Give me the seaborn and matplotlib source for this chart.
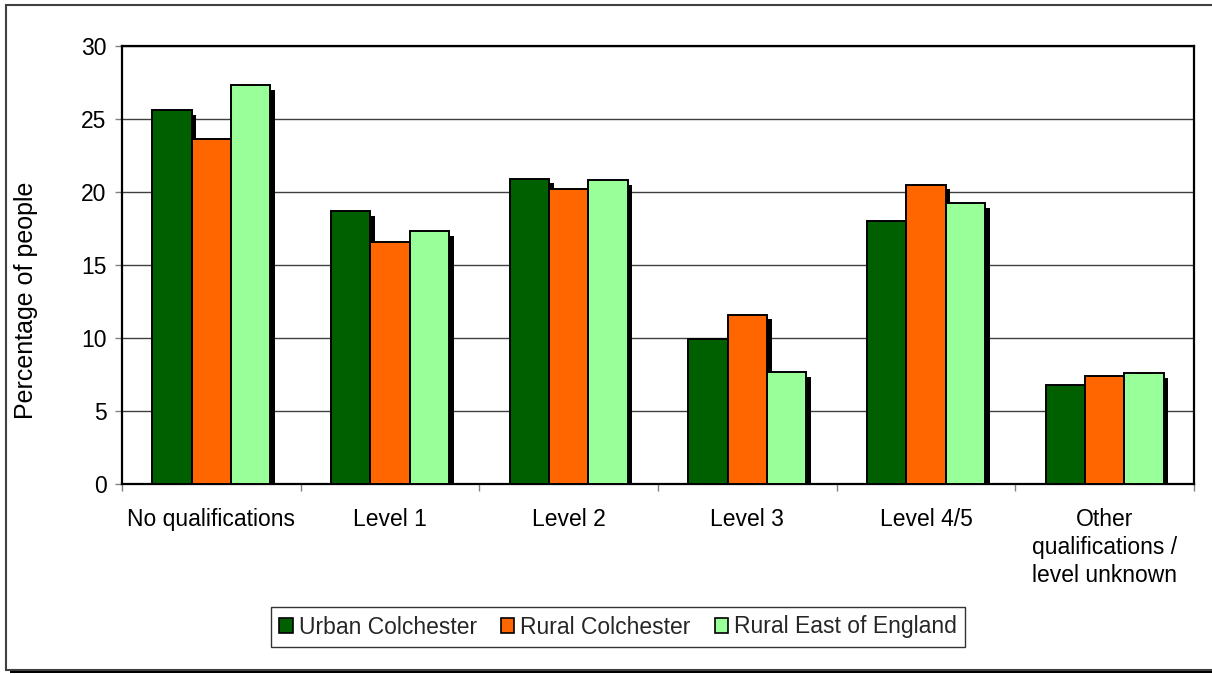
"""
Qualification levels of residents: urban vs rural Colchester vs rural East of England.
Excel-style clustered bar chart with drop shadows, redrawn with seaborn.
"""

import matplotlib as mpl
import matplotlib.pyplot as plt
import matplotlib.patheffects as pe
from matplotlib.patches import Rectangle, Patch
import pandas as pd
import seaborn as sns

CATEGORIES = [
    "No qualifications",
    "Level 1",
    "Level 2",
    "Level 3",
    "Level 4/5",
    "Other\nqualifications /\nlevel unknown",
]
URBAN_COLCHESTER = [25.6, 18.7, 20.9, 9.9, 18.0, 6.75]
RURAL_COLCHESTER = [23.6, 16.6, 20.2, 11.6, 20.5, 7.4]
RURAL_EAST = [27.3, 17.3, 20.8, 7.65, 19.25, 7.6]

SERIES = ["Urban Colchester", "Rural Colchester", "Rural East of England"]
COLORS = {
    "Urban Colchester": "#006000",
    "Rural Colchester": "#FF6600",
    "Rural East of England": "#99FF99",
}
Y_TICKS = [0, 5, 10, 15, 20, 25, 30]
FONT_SIZE = 16.5


def build_table() -> pd.DataFrame:
    rows = []
    for series, values in zip(SERIES, [URBAN_COLCHESTER, RURAL_COLCHESTER, RURAL_EAST]):
        for cat, val in zip(CATEGORIES, values):
            rows.append({"Category": cat, "Series": series, "Percent": val})
    return pd.DataFrame(rows)


def main():
    sns.set_theme(style="white")
    mpl.rcParams["font.family"] = ["Liberation Sans", "DejaVu Sans"]

    df = build_table()

    fig = plt.figure(figsize=(12.12, 6.74), dpi=100)
    fig.patch.set_facecolor("white")

    # outer chart-area frame with Excel-like shadow
    frame = Rectangle(
        (6 / 1212, 1 - 670 / 674), 1.02, (670 - 5) / 674,
        transform=fig.transFigure, facecolor="white", edgecolor="#404040",
        linewidth=1.5, zorder=-5,
        path_effects=[pe.SimplePatchShadow(offset=(3, -2.5), shadow_rgbFace="black", alpha=1), pe.Normal()],
    )
    fig.patches.append(frame)

    ax = fig.add_axes([122 / 1212, 1 - 484 / 674, (1194 - 122) / 1212, (484 - 46) / 674])
    ax.set_facecolor("white")

    sns.barplot(
        data=df, x="Category", y="Percent", hue="Series",
        hue_order=SERIES, order=CATEGORIES, palette=COLORS,
        width=0.66, gap=0, edgecolor="black", linewidth=1.4,
        saturation=1, errorbar=None, legend=False, ax=ax, zorder=3,
    )
    shadow = [pe.SimplePatchShadow(offset=(3.3, -3.3), shadow_rgbFace="black", alpha=1), pe.Normal()]
    for bar in ax.patches:
        bar.set_path_effects(shadow)

    ax.set_ylim(0, 30)
    ax.set_xlim(-0.5, len(CATEGORIES) - 0.5)
    ax.set_yticks(Y_TICKS)
    ax.yaxis.grid(True, color="#404040", linewidth=1.0, zorder=0)
    ax.set_axisbelow(True)

    ax.set_xticks(range(len(CATEGORIES)), labels=CATEGORIES)
    ax.set_xticks([i - 0.5 for i in range(len(CATEGORIES) + 1)], minor=True)
    ax.tick_params(axis="x", which="major", length=0, pad=17, labelsize=FONT_SIZE, colors="black")
    ax.tick_params(axis="x", which="minor", bottom=True, length=5, width=1, color="#808080")
    ax.tick_params(axis="y", left=True, length=5, width=1, color="#808080", pad=6,
                   labelsize=FONT_SIZE, labelcolor="black")
    for lab in ax.get_xticklabels():
        lab.set_va("top")
        lab.set_linespacing(1.3)

    for side in ["left", "bottom", "top", "right"]:
        ax.spines[side].set_visible(True)
        ax.spines[side].set_color("black")
        ax.spines[side].set_linewidth(1.6)

    ax.set_xlabel("")
    ax.set_ylabel("Percentage of people", fontsize=18, color="black")
    ax.yaxis.set_label_coords(-0.078, 0.42)

    handles = [
        Patch(facecolor=COLORS[s], edgecolor="black", linewidth=1.2, label=s)
        for s in SERIES
    ]
    leg = fig.legend(
        handles=handles, loc="center", bbox_to_anchor=(618 / 1212, 1 - 627 / 674),
        ncol=3, frameon=True, fancybox=False, fontsize=FONT_SIZE,
        handlelength=0.6, handleheight=0.6, handletextpad=0.25,
        columnspacing=1.05, borderpad=0.35, borderaxespad=0,
    )
    leg.get_frame().set_edgecolor("black")
    leg.get_frame().set_linewidth(1.0)

    fig.savefig("out.png", dpi=100, facecolor="white")
    plt.close(fig)


if __name__ == "__main__":
    main()
